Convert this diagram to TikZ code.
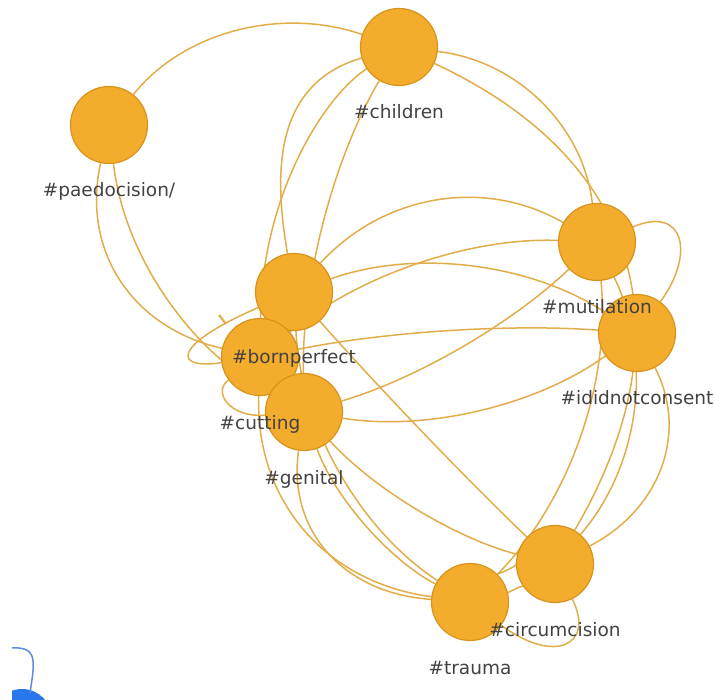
\documentclass[tikz,border=0pt]{standalone}
\usepackage{fontspec}
\setmainfont{DejaVu Sans}
\usetikzlibrary{calc}
\pgfdeclarelayer{edges}
\pgfsetlayers{edges,main}
\definecolor{nodefill}{RGB}{244,172,44}
\definecolor{nodedraw}{RGB}{214,148,28}
\definecolor{linkcol}{RGB}{226,172,74}
\definecolor{labelcol}{RGB}{66,66,66}
\definecolor{blueA}{RGB}{40,120,235}
\definecolor{blueB}{RGB}{90,140,225}
\tikzset{
  hub/.style={circle, fill=nodefill, draw=nodedraw, line width=1.2pt, minimum size=77pt, inner sep=0pt},
  lbl/.style={text=labelcol, font=\fontsize{18.5}{20}\selectfont, anchor=base, inner sep=0pt},
  link/.style={draw=linkcol, line width=1.5pt},
}
\newcommand\arcedge[3]{%
  \coordinate (mm) at ($(#1)!0.5!(#2)$);
  \coordinate (qq) at ($(mm)!2!(#3)$);
  \draw[link] (#1) .. controls ($(#1)!0.6667!(qq)$) and ($(#2)!0.6667!(qq)$) .. (#2);
}
\begin{document}
\begin{tikzpicture}[x=1pt,y=-1pt]
\useasboundingbox (0,0) rectangle (715,700);
% nodes
\node[hub] (P) at (109,125) {};
\node[hub] (C) at (399,47) {};
\node[hub] (M) at (597,242) {};
\node[hub] (I) at (637,333) {};
\node[hub] (B) at (294,292) {};
\node[hub] (U) at (260,357) {};
\node[hub] (G) at (304,412) {};
\node[hub] (X) at (555,564) {};
\node[hub] (T) at (470,602) {};
% edges
\begin{pgfonlayer}{edges}
\arcedge{P}{C}{237,36}
\arcedge{P}{G}{169,294}
\arcedge{P}{U}{126,277}
\draw[link] (C) .. controls (270,85) and (275,180) .. (B);
\draw[link] (C) .. controls (320,100) and (262,200) .. (U);
\arcedge{C}{G}{326,222}
\arcedge{C}{M}{537,106}
\arcedge{C}{X}{618,260}
\arcedge{M}{B}{437,206}
\arcedge{U}{M}{418,267}
\arcedge{B}{I}{470,270}
\arcedge{M}{G}{461,345}
\arcedge{I}{U}{448,332}
\arcedge{M}{T}{576,437}
\arcedge{M}{X}{629,410}
\arcedge{I}{X}{655,465}
\arcedge{G}{I}{479,407}
\arcedge{B}{X}{422,431}
\arcedge{G}{X}{418,507}
\arcedge{U}{T}{309,526}
\arcedge{G}{T}{333,548}
\arcedge{G}{T}{368,523}
\arcedge{B}{T}{343,470}
\arcedge{X}{T}{510,573}
\arcedge{X}{T}{515,587}
\draw[link] (M) .. controls (685,205) and (695,255) .. (I);
\draw[link] (X) .. controls (595,645) and (555,665) .. (T);
\draw[link] (B) .. controls (172,345) and (172,370) .. (U);
\draw[link] (U) .. controls (212,392) and (230,418) .. (G);
\coordinate (tk1) at (219,315);
\coordinate (tk2) at (226,324);
\draw[link, line width=2.2pt] (tk1) -- (tk2);
\end{pgfonlayer}
% labels
\node[lbl] (Plab) at (109,197) {\#paedocision/};
\node[lbl] (Clab) at (399,119) {\#children};
\node[lbl] (Mlab) at (597,314) {\#mutilation};
\node[lbl] (Ilab) at (637,405) {\#ididnotconsent};
\node[lbl] (Blab) at (294,364) {\#bornperfect};
\node[lbl] (Ulab) at (260,430) {\#cutting};
\node[lbl] (Glab) at (304,484) {\#genital};
\node[lbl] (Xlab) at (555,636) {\#circumcision};
\node[lbl] (Tlab) at (470,674) {\#trauma};
% blue fragment
\begin{scope}
\clip (12,600) rectangle (715,700);
\fill[blueA] (22,719) circle (30pt);
\draw[blueB, line width=1.5pt] (10,648) .. controls (38,646) and (35,660) .. (30,693);
\end{scope}
\end{tikzpicture}
\end{document}
